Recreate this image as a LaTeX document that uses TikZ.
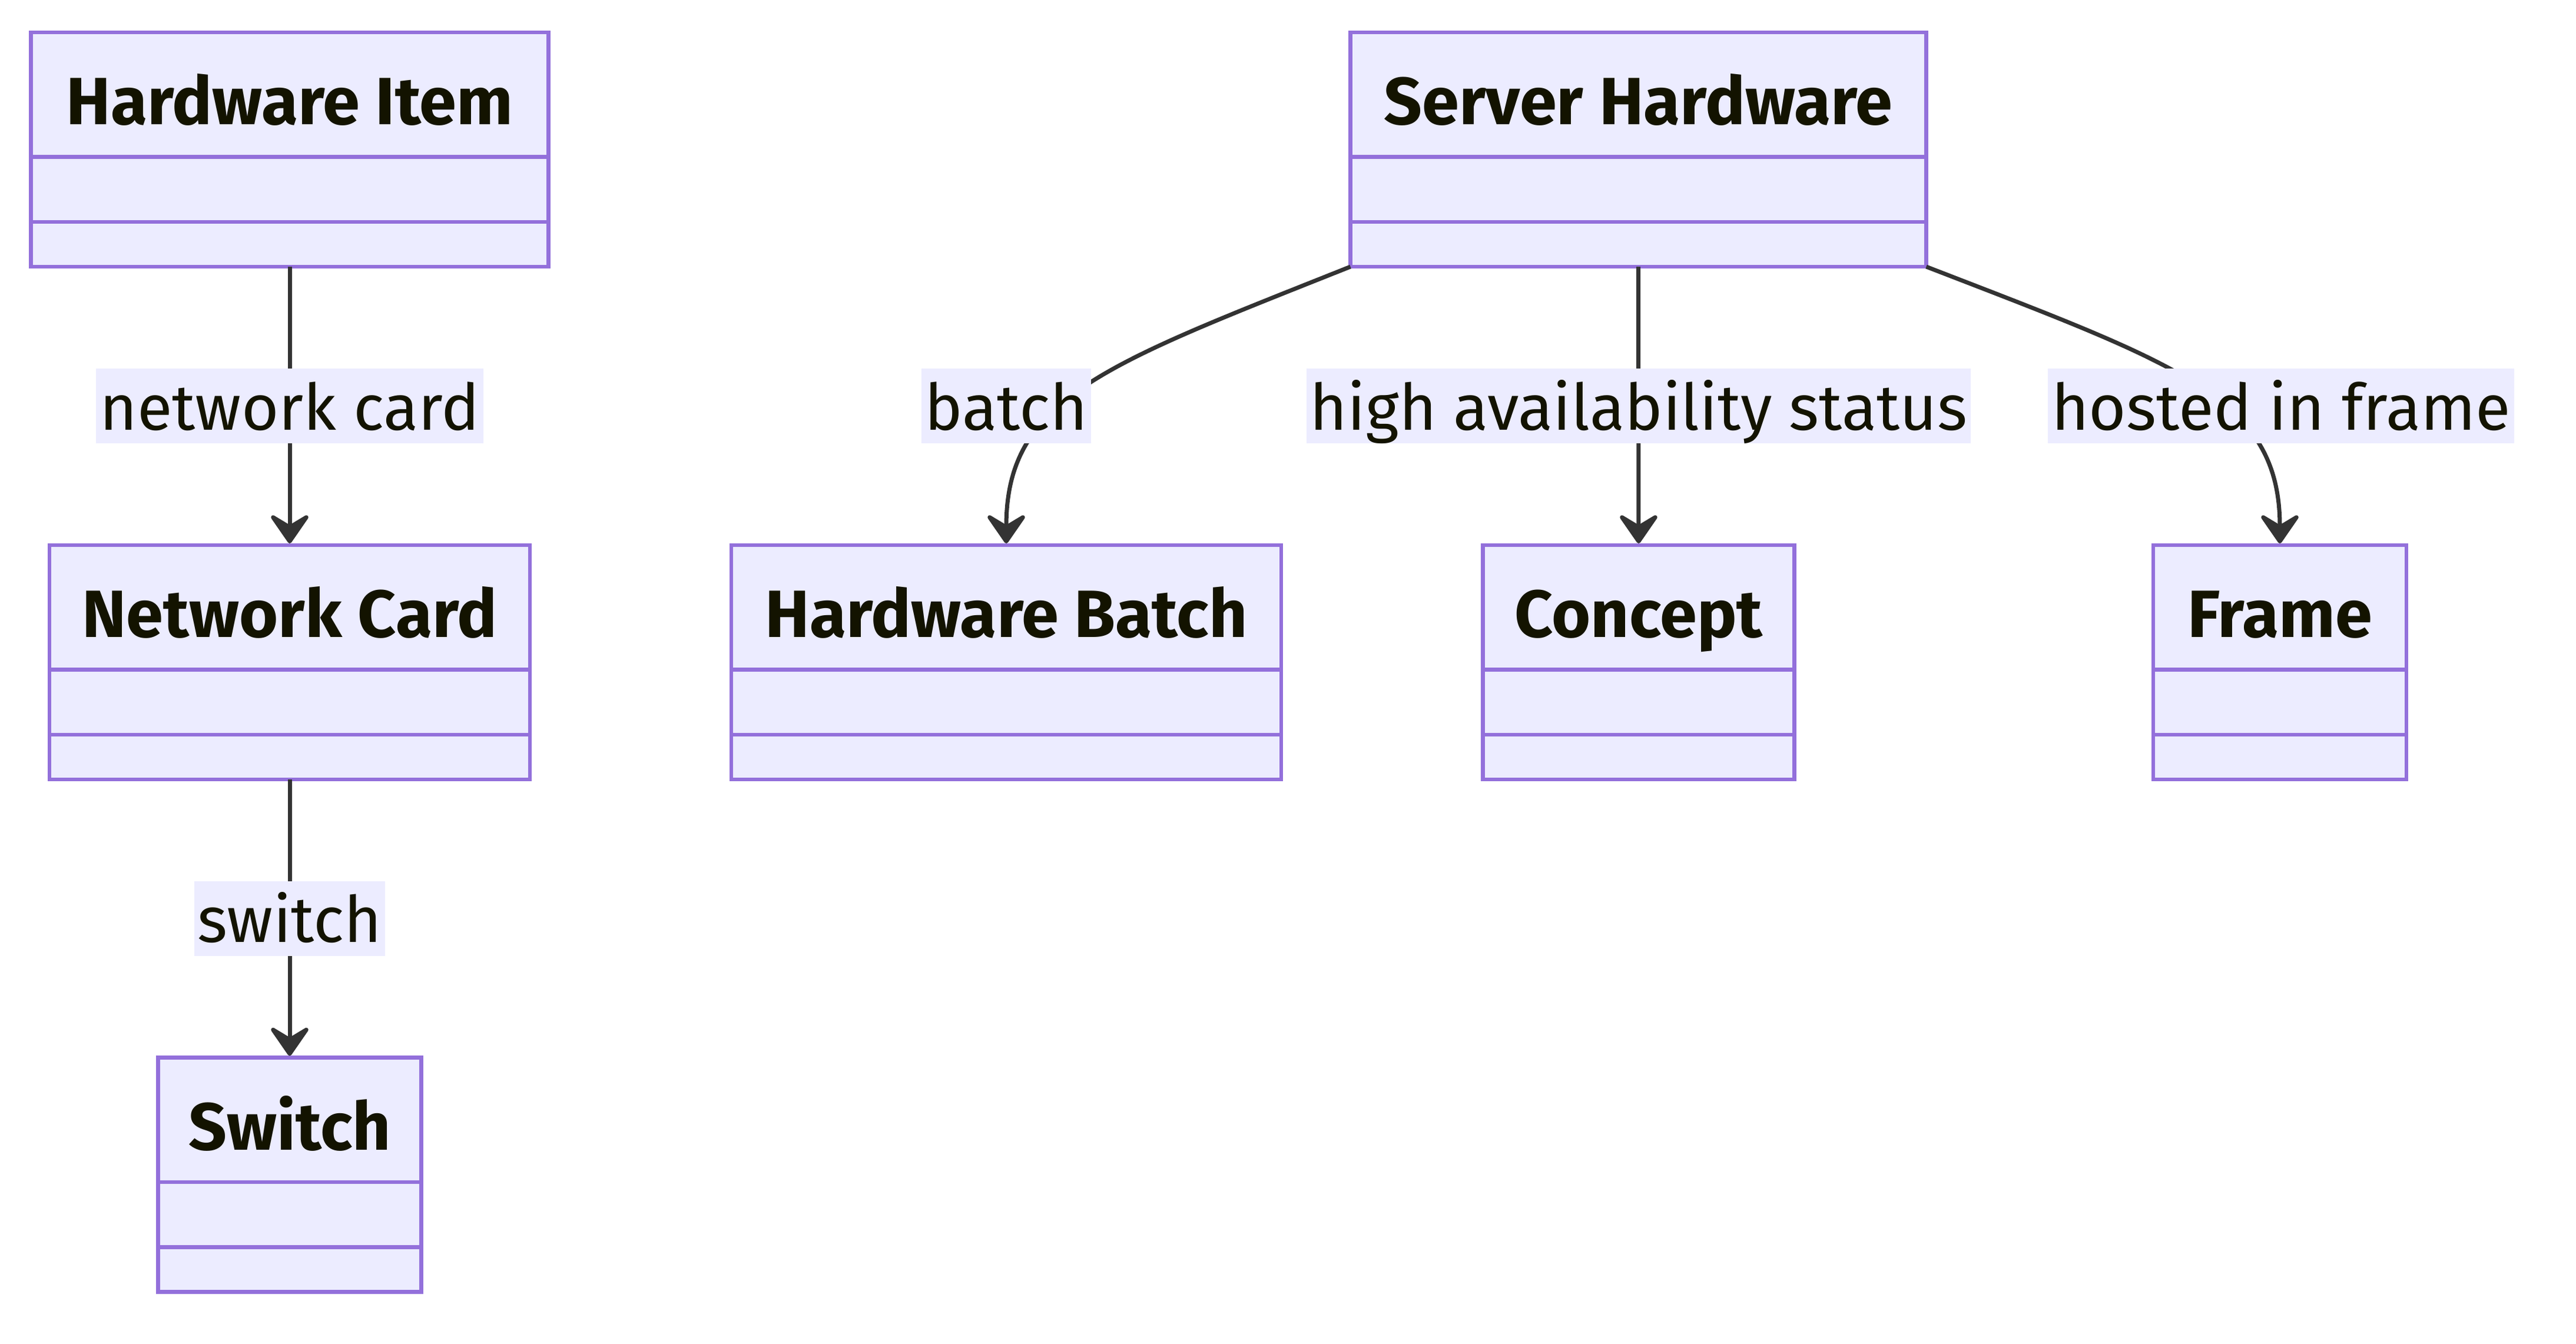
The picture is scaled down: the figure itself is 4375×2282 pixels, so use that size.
\documentclass[tikz,border=0pt]{standalone}
\usepackage{fontspec}
\setmainfont{Fira Sans}
\usetikzlibrary{arrows.meta,calc}
\definecolor{cBoxFill}{HTML}{ECECFF}
\definecolor{cBoxLine}{HTML}{9370DB}
\definecolor{cEdge}{HTML}{333333}
\definecolor{cTxt}{HTML}{131300}
\begin{document}
\begin{tikzpicture}[x=0.2pt, y=-0.2pt,
  classbox/.style={rectangle, draw=cBoxLine, fill=cBoxFill, line width=1.35pt,
    minimum height=79.6pt, inner sep=0pt, outer sep=0pt, anchor=north},
  classtitle/.style={font=\bfseries\fontsize{22.7pt}{27pt}\selectfont, text=cTxt,
    anchor=base, inner sep=0pt},
  divider/.style={draw=cBoxLine, line width=1.35pt},
  rel/.style={draw=cEdge, line width=1.4pt, shorten >=0.6pt,
    -{Stealth[length=11.6pt,width=16pt,inset=4.8pt,round]}},
  lbl/.style={rectangle, fill=cBoxFill, text=cTxt, font=\fontsize{21.8pt}{26pt}\selectfont,
    inner xsep=1.2pt, inner ysep=0pt, text height=20.8pt, text depth=4.6pt}
]
\path[use as bounding box, fill=white] (0,0) rectangle (4375,2282);

% class boxes
\node[classbox, minimum width=175.8pt] (hi) at (492,55) {};
\node[classbox, minimum width=163.2pt] (nc) at (492,926) {};
\node[classbox, minimum width=89.4pt]  (sw) at (492,1796.5) {};
\node[classbox, minimum width=195.6pt] (sh) at (2782.5,55) {};
\node[classbox, minimum width=186.8pt] (hb) at (1709,926) {};
\node[classbox, minimum width=105.8pt] (co) at (2783,926) {};
\node[classbox, minimum width=86pt]    (fr) at (3872,926) {};

\foreach \n in {hi,nc,sw,sh,hb,co,fr}{
  \draw[divider] ($(\n.north west)+(0,211.5)$) -- ($(\n.north east)+(0,211.5)$);
  \draw[divider] ($(\n.north west)+(0,322)$) -- ($(\n.north east)+(0,322)$);
}

\node[classtitle] (hiT) at ($(hi.north)+(0,156.5)$) {Hardware Item};
\node[classtitle] (ncT) at ($(nc.north)+(0,156.5)$) {Network Card};
\node[classtitle] (swT) at ($(sw.north)+(0,156.5)$) {Switch};
\node[classtitle] (shT) at ($(sh.north)+(0,156.5)$) {Server Hardware};
\node[classtitle] (hbT) at ($(hb.north)+(0,156.5)$) {Hardware Batch};
\node[classtitle] (coT) at ($(co.north)+(0,156.5)$) {Concept};
\node[classtitle] (frT) at ($(fr.north)+(0,156.5)$) {Frame};

% relations
\draw[rel] (hi.south) -- (nc.north);
\draw[rel] (nc.south) -- (sw.north);
\draw[rel] (sh.south) -- (co.north);
\draw[rel] (sh.south west) .. controls +(-417.6,166.5) and +(0,-250) .. (hb.north);
\draw[rel] (sh.south east) .. controls +(430,166.5) and +(0,-250) .. (fr.north);

% relation labels
\node[lbl] (l1) at (492,689.5) {network card};
\node[lbl] (l2) at (492,1560) {switch};
\node[lbl] (l3) at (1709,689.5) {batch};
\node[lbl] (l4) at (2783,689.5) {high availability status};
\node[lbl] (l5) at (3874,689.5) {hosted in frame};
\end{tikzpicture}
\end{document}
